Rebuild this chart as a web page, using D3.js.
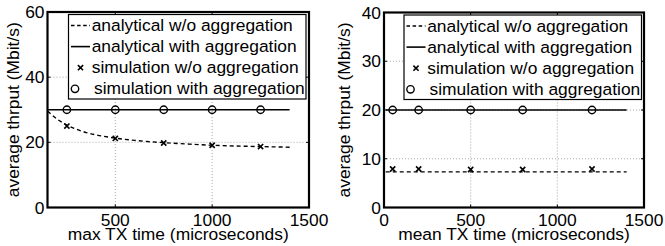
<!DOCTYPE html>
<html><head><meta charset="utf-8">
<script src="https://cdn.jsdelivr.net/npm/d3@7"></script>
<style>
html,body{margin:0;padding:0;background:#fff;}
svg{display:block;font-family:"Liberation Sans",Arial,Helvetica,sans-serif;}
</style></head>
<body>
<svg id="chart" width="665" height="246"></svg>
<script>
// ---- Data ----
const legendLabels = ["analytical w/o aggregation","analytical with aggregation","simulation w/o aggregation","simulation with aggregation"];

// Left panel (max TX time)
const leftXTicks = [500, 1000, 1500];
const leftYTicks = [0, 20, 40, 60];
const leftCurveX = [150, 200, 250, 300, 350, 400, 500, 600, 750, 900, 1000, 1250, 1400];
const leftAnalyticalNoAgg = [29.6, 27.1, 25.3, 24.0, 23.0, 22.3, 21.3, 20.6, 19.9, 19.4, 19.1, 18.7, 18.5];
const leftAggX = [150, 1400];
const leftAnalyticalAgg = [30, 30];
const leftSimX = [250, 500, 750, 1000, 1250];
const leftSimNoAgg = [25.0, 21.2, 19.8, 19.1, 18.7];
const leftSimAgg = [30, 30, 30, 30, 30];

// Right panel (mean TX time)
const rightXTicks = [0, 500, 1000, 1500];
const rightYTicks = [0, 10, 20, 30, 40];
const rightCurveX = [10, 1400];
const rightAnalyticalNoAgg = [7.3, 7.3];
const rightAnalyticalAgg = [20, 20];
const rightSimX = [50, 200, 500, 800, 1200];
const rightSimNoAgg = [7.9, 7.9, 7.8, 7.8, 7.9];
const rightSimAgg = [20, 20, 20, 20, 20];

const svg = d3.select("#chart");
const FS = 17.4;

function panel(cfg){
  const x = d3.scaleLinear().domain(cfg.xDomain).range([cfg.left, cfg.right]);
  const y = d3.scaleLinear().domain(cfg.yDomain).range([cfg.bottom, cfg.top]);
  const g = svg.append("g");
  const W = cfg.right - cfg.left, H = cfg.bottom - cfg.top;

  // grid
  const grid = g.append("g").attr("stroke","#a8a8a8").attr("stroke-width",1).attr("stroke-dasharray","1,2");
  cfg.xTicks.forEach(t=>{ if(t>cfg.xDomain[0] && t<cfg.xDomain[1]) grid.append("line").attr("x1",x(t)).attr("x2",x(t)).attr("y1",cfg.top).attr("y2",cfg.bottom); });
  cfg.yTicks.forEach(t=>{ if(t>cfg.yDomain[0] && t<cfg.yDomain[1]) grid.append("line").attr("x1",cfg.left).attr("x2",cfg.right).attr("y1",y(t)).attr("y2",y(t)); });

  // data
  const line = d3.line().x(d=>x(d[0])).y(d=>y(d[1])).curve(d3.curveMonotoneX);
  g.append("path").datum(d3.zip(cfg.curveX, cfg.noAgg)).attr("d", line)
    .attr("fill","none").attr("stroke","#000").attr("stroke-width",1.4).attr("stroke-dasharray","4,3");
  g.append("path").datum(d3.zip(cfg.aggX, cfg.agg)).attr("d", line)
    .attr("fill","none").attr("stroke","#000").attr("stroke-width",1.6);
  g.append("g").selectAll("circle").data(d3.zip(cfg.simX, cfg.simAgg)).join("circle")
    .attr("cx",d=>x(d[0])).attr("cy",d=>y(d[1])).attr("r",3.7)
    .attr("fill","none").attr("stroke","#000").attr("stroke-width",1.4);
  const cr = 2.6;
  g.append("g").selectAll("path").data(d3.zip(cfg.simX, cfg.simNoAgg)).join("path")
    .attr("d",d=>{const cx=x(d[0]), cy=y(d[1]); return `M${cx-cr},${cy-cr}L${cx+cr},${cy+cr}M${cx-cr},${cy+cr}L${cx+cr},${cy-cr}`;})
    .attr("stroke","#000").attr("stroke-width",1.6);

  // ticks (inward, all sides)
  const tk = g.append("g").attr("stroke","#000").attr("stroke-width",1);
  cfg.xTicks.forEach(t=>{
    tk.append("line").attr("x1",x(t)).attr("x2",x(t)).attr("y1",cfg.bottom).attr("y2",cfg.bottom-3);
    tk.append("line").attr("x1",x(t)).attr("x2",x(t)).attr("y1",cfg.top).attr("y2",cfg.top+3);
  });
  cfg.yTicks.forEach(t=>{
    tk.append("line").attr("x1",cfg.left).attr("x2",cfg.left+3).attr("y1",y(t)).attr("y2",y(t));
    tk.append("line").attr("x1",cfg.right).attr("x2",cfg.right-3).attr("y1",y(t)).attr("y2",y(t));
  });

  // tick labels
  g.append("g").selectAll("text").data(cfg.xTicks).join("text")
    .attr("x",d=>x(d)).attr("y",cfg.bottom+18.5).attr("text-anchor","middle")
    .attr("font-size",FS).text(d=>d);
  g.append("g").selectAll("text").data(cfg.yTicks).join("text")
    .attr("x",cfg.left-3).attr("y",d=>y(d)+6).attr("text-anchor","end")
    .attr("font-size",FS).text(d=>d);

  // axis labels
  g.append("text").attr("x",(cfg.left+cfg.right)/2).attr("y",240).attr("text-anchor","middle")
    .attr("font-size",FS).text(cfg.xLabel);
  g.append("text").attr("transform",`translate(${cfg.yLabelX},${(cfg.top+cfg.bottom)/2}) rotate(-90)`)
    .attr("text-anchor","middle").attr("font-size",FS).text("average thrput (Mbit/s)");

  // legend
  const lg = g.append("g");
  const lx = cfg.legLeft, ly = cfg.legTop, lw = cfg.legW, lh = cfg.legH;
  lg.append("rect").attr("x",lx).attr("y",ly).attr("width",lw).attr("height",lh)
    .attr("fill","#fff").attr("stroke","#000").attr("stroke-width",1.2);
  legendLabels.forEach((lab,i)=>{
    const by = ly + 16.5 + i*21.1;
    const cy = by - 5.5;
    if(i===0) lg.append("line").attr("x1",lx+2.5).attr("x2",lx+21.5).attr("y1",cy).attr("y2",cy)
      .attr("stroke","#000").attr("stroke-width",1.4).attr("stroke-dasharray","3.5,2.6");
    if(i===1) lg.append("line").attr("x1",lx+2.5).attr("x2",lx+21.5).attr("y1",cy).attr("y2",cy)
      .attr("stroke","#000").attr("stroke-width",1.6);
    if(i===2){ const cx=lx+12; lg.append("path").attr("d",`M${cx-cr},${cy-cr}L${cx+cr},${cy+cr}M${cx-cr},${cy+cr}L${cx+cr},${cy-cr}`).attr("stroke","#000").attr("stroke-width",1.6); }
    if(i===3) lg.append("circle").attr("cx",lx+6.5).attr("cy",cy).attr("r",3.7).attr("fill","none").attr("stroke","#000").attr("stroke-width",1.4);
    lg.append("text").attr("x",lx + (i===3?25.5:23.2)).attr("y",by).attr("font-size",FS).text(lab);
  });

  // axes box
  g.append("rect").attr("x",cfg.left).attr("y",cfg.top).attr("width",W).attr("height",H)
    .attr("fill","none").attr("stroke","#000").attr("stroke-width",2.2);
}

panel({
  left:47.5, right:309, top:12, bottom:207.5,
  xDomain:[150,1500], yDomain:[0,60], xTicks:leftXTicks, yTicks:leftYTicks,
  curveX:leftCurveX, noAgg:leftAnalyticalNoAgg, aggX:leftAggX, agg:leftAnalyticalAgg,
  simX:leftSimX, simNoAgg:leftSimNoAgg, simAgg:leftSimAgg,
  xLabel:"max TX time (microseconds)", yLabelX:19,
  legLeft:68.5, legTop:14.5, legW:237.5, legH:84.5
});
panel({
  left:384, right:644, top:12.5, bottom:207.5,
  xDomain:[0,1500], yDomain:[0,40], xTicks:rightXTicks, yTicks:rightYTicks,
  curveX:rightCurveX, noAgg:rightAnalyticalNoAgg, aggX:rightCurveX, agg:rightAnalyticalAgg,
  simX:rightSimX, simNoAgg:rightSimNoAgg, simAgg:rightSimAgg,
  xLabel:"mean TX time (microseconds)", yLabelX:349.5,
  legLeft:404, legTop:15, legW:237.5, legH:84.5
});
</script>
</body></html>
